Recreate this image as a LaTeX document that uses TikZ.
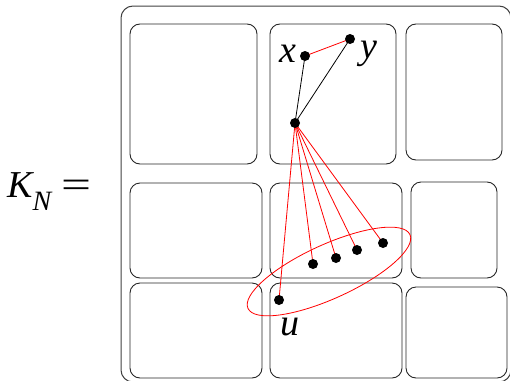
\documentclass[tikz,border=0pt]{standalone}
\usepackage{fontspec}
\setmainfont{Liberation Serif}
\begin{document}
\begin{tikzpicture}[x=1pt,y=-1pt,
  box/.style={draw=black!85, line width=0.9pt, rounded corners=10pt, inner sep=0pt},
  dot/.style={circle, fill=black, inner sep=0pt, minimum size=10pt},
  lab/.style={inner sep=0pt, anchor=base, font=\fontsize{38}{42}\selectfont\itshape},
  redline/.style={red, line width=0.8pt},
  blackline/.style={black, line width=0.8pt}]
\clip (0,0) rectangle (510,380);
% outer frame
\draw[black!75, line width=1pt, rounded corners=12pt] (121,6) rectangle (511,382);
% boxes
\node[box, minimum width=127pt, minimum height=140pt] (bA) at (193.5,94) {};
\node[box, minimum width=126pt, minimum height=140pt] (bB) at (333,94) {};
\node[box, minimum width=96pt, minimum height=136pt] (bC) at (454,92) {};
\node[box, minimum width=132pt, minimum height=95pt] (bD) at (196,230.5) {};
\node[box, minimum width=132pt, minimum height=95pt] (bE) at (336,230.5) {};
\node[box, minimum width=86pt, minimum height=96pt] (bF) at (454,230) {};
\node[box, minimum width=132pt, minimum height=95pt] (bG) at (196,330.5) {};
\node[box, minimum width=132pt, minimum height=95pt] (bH) at (336,330.5) {};
\node[box, minimum width=101pt, minimum height=91pt] (bI) at (456.5,332.5) {};
% points
\coordinate (px) at (305,56);
\coordinate (py) at (350,39);
\coordinate (ph) at (295,123);
\coordinate (pu) at (279,300);
\coordinate (p1) at (313,264);
\coordinate (p2) at (336,258);
\coordinate (p3) at (357,250);
\coordinate (p4) at (383,243);
\coordinate (ec) at (329,271.5);
% edges
\draw[blackline] (ph) -- (px);
\draw[blackline] (ph) -- (py);
\draw[redline] (px) -- (py);
\foreach \p in {pu,p1,p2,p3,p4} \draw[redline] (ph) -- (\p);
% ellipse
\draw[redline, rotate around={24.5:(ec)}] (ec) ellipse [x radius=89, y radius=27];
% dots
\foreach \p in {px,py,ph,pu,p1,p2,p3,p4} \node[dot] at (\p) {};
% labels
\node[lab] (lx) at (288,62) {x};
\node[lab] (ly) at (369,58) {y};
\node[lab] (lu) at (290,335) {u};
\node[inner sep=0pt, anchor=base west] (kn) at (7,197)
  {\fontsize{38}{42}\selectfont\itshape K\raisebox{-13pt}{\fontsize{28}{30}\selectfont N}\kern10pt\upshape\scalebox{1.4}[1]{=}};
\end{tikzpicture}
\end{document}
